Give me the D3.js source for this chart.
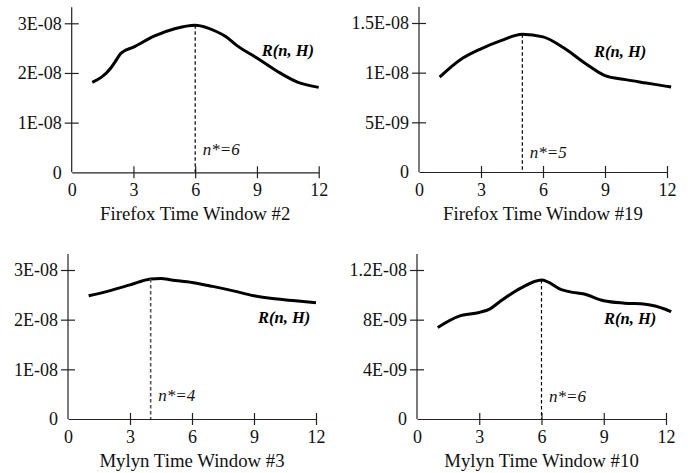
<!DOCTYPE html>
<html>
<head>
<meta charset="utf-8">
<script src="https://cdn.jsdelivr.net/npm/d3@7"></script>
<style>
  html, body { margin: 0; padding: 0; background: #fff; }
  svg { display: block; }
</style>
</head>
<body>
<svg id="chart" width="688" height="473"></svg>
<script>
// values (R in the unit of each y axis)
const nFirefox2 = [1, 1.9, 2.1, 2.4, 3, 4, 5, 6, 7, 7.5, 8, 9, 10, 11, 12];
const rFirefox2 = [1.81, 2.10, 2.22, 2.40, 2.52, 2.74, 2.89, 2.96, 2.84, 2.73, 2.56, 2.30, 2.03, 1.81, 1.71].map((v) => v * 1e-8);

const nFirefox19 = [1, 2, 3, 4, 5, 6, 7, 8, 9, 10, 11, 12, 12.2];
const rFirefox19 = [0.956, 1.13, 1.24, 1.325, 1.386, 1.36, 1.25, 1.10, 0.97, 0.93, 0.896, 0.862, 0.855].map((v) => v * 1e-8);

const nMylyn3 = [1, 2, 3, 4, 4.5, 5, 6, 7, 8, 9, 10, 11, 12];
const rMylyn3 = [2.48, 2.58, 2.70, 2.82, 2.83, 2.80, 2.75, 2.67, 2.58, 2.48, 2.42, 2.38, 2.34].map((v) => v * 1e-8);

const nMylyn10 = [1, 2, 3, 3.5, 4, 5, 6, 7, 7.5, 8, 9, 10, 11, 12, 12.25];
const rMylyn10 = [7.37, 8.26, 8.58, 8.85, 9.46, 10.54, 11.2, 10.4, 10.2, 10.08, 9.52, 9.33, 9.25, 8.82, 8.64].map((v) => v * 1e-9);

const titles = ["Firefox Time Window #2", "Firefox Time Window #19", "Mylyn Time Window #3", "Mylyn Time Window #10"];
const nStars = [6, 5, 4, 6];

const xTicks = [0, 3, 6, 9, 12];
const yTickValues = [
  [0, 1e-8, 2e-8, 3e-8],
  [0, 5e-9, 1e-8, 1.5e-8],
  [0, 1e-8, 2e-8, 3e-8],
  [0, 4e-9, 8e-9, 1.2e-8]
];
const yTickLabels = [
  ["0", "1E-08", "2E-08", "3E-08"],
  ["0", "5E-09", "1E-08", "1.5E-08"],
  ["0", "1E-08", "2E-08", "3E-08"],
  ["0", "4E-09", "8E-09", "1.2E-08"]
];

const series = [
  { n: nFirefox2, r: rFirefox2 },
  { n: nFirefox19, r: rFirefox19 },
  { n: nMylyn3, r: rMylyn3 },
  { n: nMylyn10, r: rMylyn10 }
];

// where each panel sits: origin of the axes, width of the x axis, label offsets
const layout = [
  { ox: 71.7, oy: 172.3, w: 247, rx: 190, ry: 32.7, starDy: 17 },
  { ox: 419, oy: 172, w: 248, rx: 175, ry: 34, starDy: 14 },
  { ox: 68, oy: 419, w: 248, rx: 190, ry: 53, starDy: 18 },
  { ox: 417, oy: 419, w: 249, rx: 187, ry: 53.5, starDy: 17 }
];

const FONT = "'Liberation Serif', 'Times New Roman', serif";
const plotH = 149;

const svg = d3.select("#chart");

series.forEach((s, i) => {
  const L = layout[i];
  const ticksY = yTickValues[i];
  const g = svg.append("g").attr("transform", `translate(${L.ox},${L.oy - plotH})`);

  const x = d3.scaleLinear().domain([0, 12]).range([0, L.w]);
  const y = d3.scaleLinear().domain([0, d3.max(ticksY)]).range([plotH, 0]);

  // x axis
  g.append("g")
    .attr("transform", `translate(0,${plotH})`)
    .call(d3.axisBottom(x).tickValues(xTicks).tickSizeOuter(0).tickFormat((d) => d))
    .call((sel) => sel.attr("font-family", FONT).attr("font-size", 18))
    .call((sel) => sel.select(".domain").attr("stroke", "#222").attr("stroke-width", 1.2))
    .call((sel) => sel.selectAll(".tick line").attr("y1", -6).attr("y2", 6).attr("stroke", "#222").attr("stroke-width", 1.2))
    .call((sel) => sel.selectAll(".tick").filter((d) => d === 0).select("line").remove())
    .call((sel) => sel.selectAll(".tick text").attr("y", 23.5).attr("dy", 0).attr("fill", "#111"));

  // y axis
  g.append("g")
    .call(d3.axisLeft(y).tickValues(ticksY).tickFormat((d, k) => yTickLabels[i][k]))
    .call((sel) => sel.attr("font-family", FONT).attr("font-size", 18))
    .call((sel) => sel.select(".domain").remove())
    .call((sel) => sel.selectAll(".tick line").attr("x1", -7).attr("x2", 7).attr("stroke", "#222").attr("stroke-width", 1.2))
    .call((sel) => sel.selectAll(".tick").filter((d) => d === 0).select("line").remove())
    .call((sel) => sel.selectAll(".tick text").attr("x", -10).attr("dy", "0.33em").attr("fill", "#111"));

  g.append("line")
    .attr("x1", 0).attr("x2", 0)
    .attr("y1", plotH).attr("y2", -16)
    .attr("stroke", "#222")
    .attr("stroke-width", 1.2);

  // R(n, H) curve
  const pts = s.n.map((n, k) => ({ n, r: s.r[k] }));
  const line = d3.line()
    .x((d) => x(d.n))
    .y((d) => y(d.r))
    .curve(d3.curveMonotoneX);

  g.append("path")
    .datum(pts)
    .attr("fill", "none")
    .attr("stroke", "#000")
    .attr("stroke-width", 3)
    .attr("stroke-linejoin", "round")
    .attr("d", line);

  // n* marker
  const star = pts.find((d) => d.n === nStars[i]);
  g.append("line")
    .attr("x1", x(star.n)).attr("x2", x(star.n))
    .attr("y1", y(star.r)).attr("y2", plotH)
    .attr("stroke", i === 2 ? "#555" : "#000")
    .attr("stroke-width", i === 2 ? 1.6 : 1.2)
    .attr("stroke-dasharray", "3.5,2.5");

  g.append("text")
    .attr("x", x(star.n) + 7.5)
    .attr("y", plotH - L.starDy)
    .attr("font-family", FONT)
    .attr("font-size", 17)
    .attr("font-style", "italic")
    .attr("fill", "#111")
    .text(`n*=${nStars[i]}`);

  g.append("text")
    .attr("x", L.rx)
    .attr("y", L.ry)
    .attr("font-family", FONT)
    .attr("font-size", 16.5)
    .attr("font-style", "italic")
    .attr("font-weight", "bold")
    .attr("fill", "#000")
    .text("R(n, H)");

  // panel title
  g.append("text")
    .attr("x", x(6))
    .attr("y", plotH + 47.5)
    .attr("text-anchor", "middle")
    .attr("font-family", FONT)
    .attr("font-size", 18.8)
    .attr("fill", "#111")
    .text(titles[i]);
});
</script>
</body>
</html>
